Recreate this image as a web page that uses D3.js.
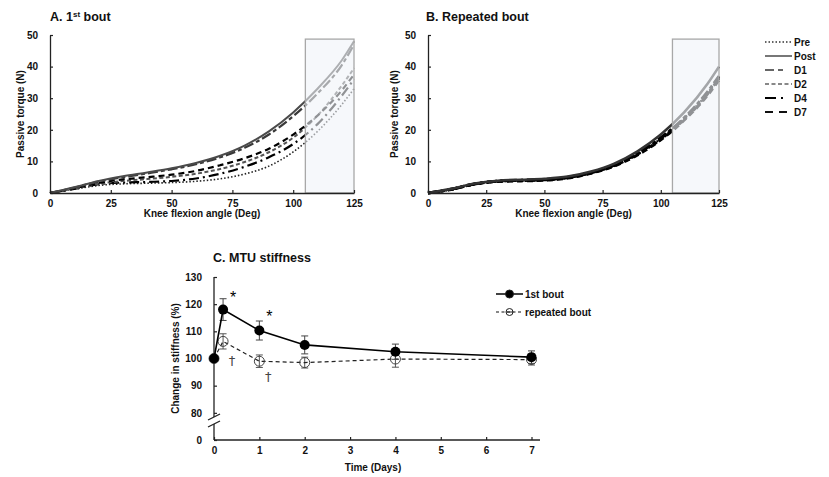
<!DOCTYPE html>
<html>
<head>
<meta charset="utf-8">
<script src="https://cdn.jsdelivr.net/npm/d3@7"></script>
<style>
  body { margin: 0; background: #fff; }
  text { font-family: "Liberation Sans", Arial, sans-serif; }
  .tick text { font-size: 10px; font-weight: bold; fill: #111; }
  .axis-label { font-size: 10px; font-weight: bold; fill: #111; }
  .title { font-size: 12.5px; font-weight: bold; fill: #111; }
</style>
</head>
<body>
<div id="wrapper"></div>
<script>
// ---- data ----
const angles = [0, 10, 20, 30, 40, 50, 60, 70, 80, 90, 100, 110, 120, 125]
const seriesNames = ['Pre', 'Post', 'D1', 'D2', 'D4', 'D7']

// passive torque (N), 1st bout
const firstBout = {
  Pre:  [0, 1.2, 2.4, 2.9, 3.1, 3.3, 3.7, 4.5, 6.0, 8.5, 13.0, 19.5, 28.0, 33.0],
  Post: [0, 1.8, 3.8, 5.3, 6.5, 7.8, 9.5, 11.8, 15.0, 19.5, 25.5, 33.0, 42.0, 48.0],
  D1:   [0, 1.7, 3.6, 5.0, 6.2, 7.5, 9.1, 11.3, 14.3, 18.5, 24.3, 31.5, 40.5, 47.0],
  D2:   [0, 1.4, 2.9, 3.8, 4.4, 5.1, 6.1, 7.6, 9.8, 12.9, 17.5, 24.5, 34.0, 39.5],
  D4:   [0, 1.3, 2.8, 3.3, 3.5, 3.8, 4.6, 6.1, 8.3, 11.3, 15.5, 21.8, 30.8, 36.0],
  D7:   [0, 1.5, 3.2, 4.3, 5.0, 5.8, 7.0, 8.8, 11.0, 14.0, 18.5, 24.5, 32.5, 37.5]
}

// passive torque (N), repeated bout
const repeatedBout = {
  Pre:  [0, 1.1, 2.7, 3.6, 3.9, 4.1, 4.8, 6.3, 8.7, 12.3, 17.2, 23.6, 31.5, 36.5],
  Post: [0, 1.3, 3.0, 3.9, 4.2, 4.5, 5.2, 6.8, 9.3, 13.2, 18.5, 25.5, 34.5, 40.0],
  D1:   [0, 1.2, 2.9, 3.8, 4.0, 4.2, 4.9, 6.4, 8.8, 12.5, 17.4, 23.8, 32.0, 37.0],
  D2:   [0, 1.2, 2.8, 3.7, 3.9, 4.1, 4.8, 6.3, 8.6, 12.2, 17.0, 23.2, 31.2, 36.3],
  D4:   [0, 1.2, 2.9, 3.8, 4.1, 4.3, 5.0, 6.5, 8.9, 12.6, 17.5, 23.5, 31.6, 36.8],
  D7:   [0, 1.1, 2.8, 3.6, 3.8, 4.0, 4.7, 6.2, 8.5, 12.0, 16.8, 23.0, 30.8, 35.8]
}
const angleTicks = [0, 25, 50, 75, 100, 125]
const torqueTicks = [0, 10, 20, 30, 40, 50]
const shadeRange = [105, 125]
const shadeTop = 48.7

// MTU stiffness (% change)
const days = [0, 0.2, 1, 2, 4, 7]
const stiffFirst = [100, 118, 110.3, 105, 102.5, 100.5]
const stiffFirstErr = [0, 4, 3.5, 3.3, 2.8, 2.3]
const stiffRepeated = [100, 106.3, 99, 98.5, 99.8, 99.6]
const stiffRepeatedErr = [0, 2.8, 2.3, 2.0, 3.0, 2.0]
const dayTicks = [0, 1, 2, 3, 4, 5, 6, 7]
const stiffTicks = [70, 80, 90, 100, 110, 120, 130]
const stiffTickLabels = ['0', '80', '90', '100', '110', '120', '130']
const marks = [
  { day: 0.2, value: 120.5, dx: 10, sym: '*' },
  { day: 1, value: 113.5, dx: 10, sym: '*' },
  { day: 0.2, value: 100.5, dx: 9, dy: 8, sym: '\u2020' },
  { day: 1, value: 94.5, dx: 9, dy: 8, sym: '\u2020' }
]

// ---- styles per series ----
const lineStyle = {
  Pre:  { color: '#222', dash: '1.5,2', width: 1.6 },
  Post: { color: '#4a4a4a', dash: null, width: 2 },
  D1:   { color: '#3a3a3a', dash: '10,3,4,3', width: 2.2 },
  D2:   { color: '#555', dash: '4,2.5', width: 2 },
  D4:   { color: '#000', dash: '10,4,2,4', width: 2.2 },
  D7:   { color: '#000', dash: '6,4', width: 2.2 }
}
const legendColor = { Pre: '#333', Post: '#777', D1: '#666', D2: '#888', D4: '#000', D7: '#111' }

const svg = d3.select('#wrapper').append('svg')
  .attr('width', 829)
  .attr('height', 477)

function torquePanel(data, xRange, title, titleX, labelX, widthBoost) {
  const xScale = d3.scaleLinear().domain([0, 125]).range(xRange)
  const yScale = d3.scaleLinear().domain([0, 50]).range([193, 35])
  const g = svg.append('g')

  const line = d3.line()
    .x((d, i) => xScale(angles[i]))
    .y(d => yScale(d))
    .curve(d3.curveMonotoneX)

  // draw lines (bottom to top)
  const order = ['Pre', 'D4', 'D2', 'D7', 'D1', 'Post']
  order.forEach(name => {
    const s = lineStyle[name]
    g.append('path')
      .datum(data[name])
      .attr('d', line)
      .attr('fill', 'none')
      .attr('stroke', widthBoost ? (name === 'Post' ? '#333' : '#000') : s.color)
      .attr('stroke-width', s.width + widthBoost)
      .attr('stroke-dasharray', s.dash)
  })

  // shaded window, drawn on top (lightens the lines)
  g.append('rect')
    .attr('x', xScale(shadeRange[0]))
    .attr('y', yScale(shadeTop))
    .attr('width', xScale(shadeRange[1]) - xScale(shadeRange[0]))
    .attr('height', yScale(0) - yScale(shadeTop))
    .attr('fill', 'rgba(240,243,248,0.6)')
    .attr('stroke', '#a8a8a8')
    .attr('stroke-width', 1.3)

  // axes
  const xAxis = g.append('g')
    .attr('transform', `translate(0,${yScale(0)})`)
    .call(d3.axisBottom(xScale).tickValues(angleTicks).tickSizeInner(-3).tickSizeOuter(0).tickPadding(7))
  const yAxis = g.append('g')
    .attr('transform', `translate(${xRange[0]},0)`)
    .call(d3.axisLeft(yScale).tickValues(torqueTicks).tickSizeInner(3).tickSizeOuter(0).tickPadding(9))
  ;[xAxis, yAxis].forEach(a => {
    a.select('.domain').attr('stroke', '#222').attr('stroke-width', 1.3)
    a.selectAll('.tick line').attr('stroke', '#222').attr('stroke-width', 1.2)
  })
  yAxis.selectAll('.tick line').attr('x2', 3)

  g.append('text')
    .attr('class', 'axis-label')
    .attr('x', (xRange[0] + xRange[1]) / 2)
    .attr('y', 217)
    .attr('text-anchor', 'middle')
    .text('Knee flexion angle (Deg)')

  g.append('text')
    .attr('class', 'axis-label')
    .attr('transform', `translate(${labelX},114) rotate(-90)`)
    .attr('text-anchor', 'middle')
    .text('Passive torque (N)')

  const t = g.append('text')
    .attr('class', 'title')
    .attr('x', titleX)
    .attr('y', 21)
  title.forEach(part => {
    t.append('tspan')
      .attr('font-size', part.sup ? '8px' : null)
      .attr('dy', part.sup ? -4 : (part.after ? 4 : null))
      .text(part.text)
  })
}

torquePanel(firstBout, [50, 354], [{ text: 'A. 1' }, { text: 'st', sup: true }, { text: ' bout', after: true }], 50, 24, 0)
torquePanel(repeatedBout, [428, 719], [{ text: 'B. Repeated bout' }], 426, 398, 0.6)

// legend for A/B
const legend = svg.append('g')
seriesNames.forEach((name, i) => {
  const s = lineStyle[name]
  const y = 42 + i * 14
  legend.append('line')
    .attr('x1', 765).attr('x2', 792)
    .attr('y1', y).attr('y2', y)
    .attr('stroke', legendColor[name])
    .attr('stroke-width', s.width)
    .attr('stroke-dasharray', name === 'D1' ? '9,4,5' : (name === 'D4' ? '11,5,2' : (name === 'D7' ? '8,6' : s.dash)))
  legend.append('text')
    .attr('x', 794).attr('y', y + 3.5)
    .attr('font-size', '10px')
    .attr('font-weight', 'bold')
    .attr('fill', '#111')
    .text(name)
})

// ---- panel C ----
const cx = d3.scaleLinear().domain([0, 7]).range([214, 531.5])
const cy = d3.scaleLinear().domain([70, 130]).range([440, 277])
const gc = svg.append('g')

gc.append('text')
  .attr('class', 'title')
  .attr('x', 213).attr('y', 262)
  .text('C. MTU stiffness')

const xAxisC = gc.append('g')
  .attr('transform', `translate(0,${cy(70)})`)
  .call(d3.axisBottom(cx).tickValues(dayTicks).tickFormat(d3.format('d'))
    .tickSizeInner(-3).tickSizeOuter(0).tickPadding(7))
xAxisC.select('.domain').attr('d', `M${cx(0)},0H540`)

const yAxisC = gc.append('g')
  .attr('transform', `translate(${cx(0)},0)`)
  .call(d3.axisLeft(cy).tickValues(stiffTicks).tickSizeInner(3).tickSizeOuter(0).tickPadding(9)
    .tickFormat((d, i) => stiffTickLabels[i]))
yAxisC.selectAll('.tick line').attr('x2', 3)
yAxisC.select('.domain').remove()
;[xAxisC, yAxisC].forEach(a => {
  a.select('.domain').attr('stroke', '#222').attr('stroke-width', 1.3)
  a.selectAll('.tick line').attr('stroke', '#222').attr('stroke-width', 1.2)
})

// broken y axis line
const breakTop = 417, breakBottom = 424
gc.append('line').attr('x1', cx(0)).attr('x2', cx(0)).attr('y1', cy(130)).attr('y2', breakTop)
  .attr('stroke', '#222').attr('stroke-width', 1.3)
gc.append('line').attr('x1', cx(0)).attr('x2', cx(0)).attr('y1', breakBottom).attr('y2', cy(70))
  .attr('stroke', '#222').attr('stroke-width', 1.3)
;[breakTop, breakBottom].forEach(y => {
  gc.append('line')
    .attr('x1', cx(0) - 6).attr('y1', y + 3)
    .attr('x2', cx(0) + 6).attr('y2', y - 3)
    .attr('stroke', '#222').attr('stroke-width', 1.3)
})

gc.append('text')
  .attr('class', 'axis-label')
  .attr('x', (cx(0) + 540) / 2 - 4).attr('y', 471)
  .attr('text-anchor', 'middle')
  .text('Time (Days)')

gc.append('text')
  .attr('class', 'axis-label')
  .attr('transform', `translate(179,${cy(100)}) rotate(-90)`)
  .attr('text-anchor', 'middle')
  .text('Change in stiffness (%)')

function errorBars(values, errs, color) {
  values.forEach((v, i) => {
    if (!errs[i]) return
    const x = cx(days[i])
    gc.append('line').attr('x1', x).attr('x2', x)
      .attr('y1', cy(v - errs[i])).attr('y2', cy(v + errs[i]))
      .attr('stroke', color).attr('stroke-width', 1)
    ;[v - errs[i], v + errs[i]].forEach(e => {
      gc.append('line').attr('x1', x - 3.5).attr('x2', x + 3.5)
        .attr('y1', cy(e)).attr('y2', cy(e))
        .attr('stroke', color).attr('stroke-width', 1)
    })
  })
}

const cLine = d3.line().x((d, i) => cx(days[i])).y(d => cy(d))

// repeated bout
errorBars(stiffRepeated, stiffRepeatedErr, '#555')
gc.append('path').datum(stiffRepeated)
  .attr('d', cLine)
  .attr('fill', 'none').attr('stroke', '#222').attr('stroke-width', 1.2)
  .attr('stroke-dasharray', '4,3')
gc.selectAll('.open-dot').data(stiffRepeated).enter().append('circle')
  .attr('cx', (d, i) => cx(days[i]))
  .attr('cy', d => cy(d))
  .attr('r', 5)
  .attr('fill', 'none')
  .attr('stroke', '#444')
  .attr('stroke-width', 1)

// 1st bout
errorBars(stiffFirst, stiffFirstErr, '#444')
gc.append('path').datum(stiffFirst)
  .attr('d', cLine)
  .attr('fill', 'none').attr('stroke', '#000').attr('stroke-width', 1.6)
gc.selectAll('.full-dot').data(stiffFirst).enter().append('circle')
  .attr('cx', (d, i) => cx(days[i]))
  .attr('cy', d => cy(d))
  .attr('r', 5)
  .attr('fill', '#000')

// significance marks
marks.forEach(m => {
  gc.append('text')
    .attr('x', cx(m.day) + m.dx)
    .attr('y', cy(m.value) + (m.dy || 0))
    .attr('text-anchor', 'middle')
    .style('font-family', m.sym === '*' ? null : '"DejaVu Sans", sans-serif')
    .attr('font-size', m.sym === '*' ? '16px' : '13px')
    .attr('fill', m.sym === '*' ? '#000' : '#444')
    .text(m.sym)
})

// legend C
const legendC = [
  { label: '1st bout', dash: null, fill: '#000', y: 294 },
  { label: 'repeated bout', dash: '3,2.5', fill: 'none', y: 312 }
]
legendC.forEach(l => {
  gc.append('line').attr('x1', 496).attr('x2', 523).attr('y1', l.y).attr('y2', l.y)
    .attr('stroke', '#111').attr('stroke-width', l.dash ? 1.2 : 1.6)
    .attr('stroke-dasharray', l.dash)
  gc.append('circle').attr('cx', 509.5).attr('cy', l.y).attr('r', l.dash ? 3.5 : 4)
    .attr('fill', l.fill).attr('stroke', '#222').attr('stroke-width', 1)
  if (l.dash) {
    gc.append('line').attr('x1', 506).attr('x2', 513).attr('y1', l.y).attr('y2', l.y)
      .attr('stroke', '#222').attr('stroke-width', 1)
  }
  gc.append('text')
    .attr('x', 525).attr('y', l.y + 3.5)
    .attr('font-size', '10px').attr('font-weight', 'bold').attr('fill', '#111')
    .text(l.label)
})
</script>
</body>
</html>
